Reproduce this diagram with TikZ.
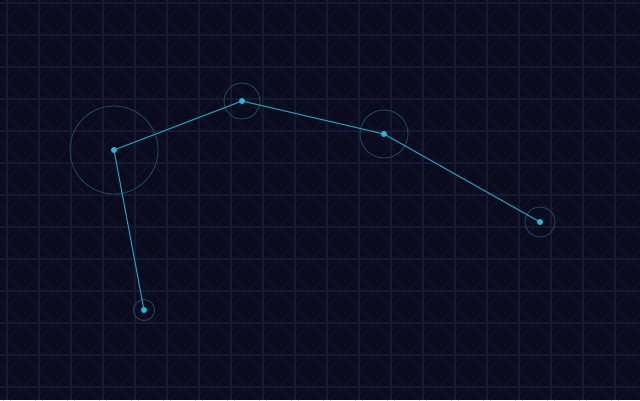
\documentclass[tikz,border=0pt]{standalone}
\usepackage{tikz}
\definecolor{bg}{HTML}{0A0B1D}
\definecolor{gridc}{HTML}{161930}
\definecolor{diagc}{HTML}{13162B}
\definecolor{edgec}{HTML}{1C9CBA}
\definecolor{dotc}{HTML}{22B8D8}
\definecolor{haloc}{HTML}{154A62}
\tikzset{
  gridline/.style={draw=gridc, line width=1.6pt},
  diagline/.style={draw=diagc, line width=0.9pt},
  halo/.style={draw=haloc, line width=0.9pt},
  edge/.style={draw=edgec, line width=1.1pt},
  dotnode/.style={circle, fill=dotc, inner sep=0pt, minimum size=6pt, draw=none},
}
\begin{document}
\begin{tikzpicture}[x=1pt,y=-1pt]
\fill[bg] (0,0) rectangle (640,400);
\useasboundingbox (0,0) rectangle (640,400);
\begin{scope}
\clip (0,0) rectangle (640,400);
\foreach \k in {-13,...,20} {\draw[diagline] ({20+32*\k},0) -- ({20+32*\k+400},400);}
\foreach \k in {0,...,33} {\draw[diagline] ({26+32*\k},0) -- ({26+32*\k-400},400);}
\foreach \k in {0,...,19} {\draw[gridline] ({7+32*\k},0) -- ({7+32*\k},400);}
\foreach \k in {0,...,12} {\draw[gridline] (0,{3+32*\k}) -- (640,{3+32*\k});}
\end{scope}
\coordinate (a) at (114,150);
\coordinate (b) at (242,101);
\coordinate (c) at (384,134);
\coordinate (d) at (540,222);
\coordinate (e) at (144,310);
\draw[halo] (a) circle[radius=44];
\draw[halo] (b) circle[radius=18];
\draw[halo] (c) circle[radius=24];
\draw[halo] (d) circle[radius=15];
\draw[halo] (e) circle[radius=10.5];
\draw[edge] (a) -- (b);
\draw[edge] (b) -- (c);
\draw[edge] (c) -- (d);
\draw[edge] (a) -- (e);
\node[dotnode] (na) at (a) {};
\node[dotnode] (nb) at (b) {};
\node[dotnode] (nc) at (c) {};
\node[dotnode] (nd) at (d) {};
\node[dotnode] (ne) at (e) {};
\end{tikzpicture}
\end{document}
